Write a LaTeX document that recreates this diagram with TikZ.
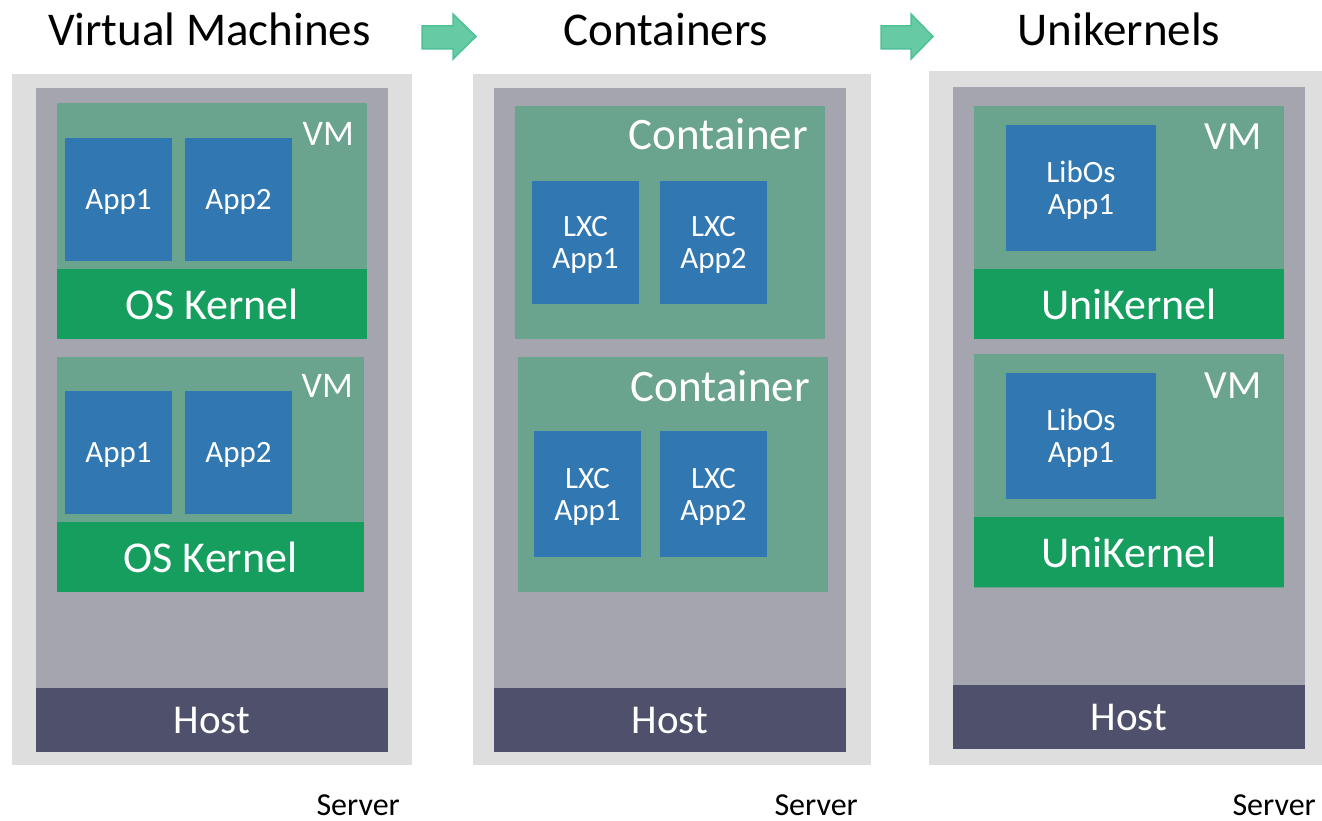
\documentclass[tikz,border=0pt]{standalone}
\usepackage{fontspec}
\setmainfont{Carlito}
\definecolor{servergray}{HTML}{DEDEDE}
\definecolor{hypergray}{HTML}{A5A5B0}
\definecolor{guestteal}{HTML}{6AA38E}
\definecolor{appblue}{HTML}{3177B2}
\definecolor{kernelgreen}{HTML}{169E5E}
\definecolor{hostslate}{HTML}{4F506B}
\definecolor{arrowfill}{HTML}{66CBA4}
\definecolor{arrowline}{HTML}{4FC196}
\begin{document}
\begin{tikzpicture}[x=1pt, y=-1pt,
	box/.style={rectangle, inner sep=0pt, outer sep=0pt, text=white},
	appbox/.style={box, fill=appblue, minimum width=107pt, minimum height=123pt, align=center, text depth=0pt, font=\fontsize{31}{32}\selectfont},
	kernelbox/.style={box, fill=kernelgreen, minimum height=70pt, text depth=0pt, font=\fontsize{44}{46}\selectfont},
	hostbox/.style={box, fill=hostslate, minimum width=352pt, minimum height=64pt, text depth=0pt, font=\fontsize{41}{44}\selectfont},
	title/.style={anchor=base, inner sep=0pt, font=\fontsize{47}{50}\selectfont},
	tag/.style={anchor=base east, inner sep=0pt, text=white},
	servertag/.style={anchor=base east, inner sep=0pt, font=\fontsize{32}{34}\selectfont},
	nextarrow/.style={fill=arrowfill, draw=arrowline, line width=1.5pt, line join=miter}]
	\useasboundingbox (0,0) rectangle (1322,821);

	% titles and arrows
	\node (tVM) at (209.5, 46)	[title]	{Virtual Machines};
	\node (tCT) at (666, 46)	[title]	{Containers};
	\node (tUK) at (1119, 46)	[title]	{Unikernels};
	\draw[nextarrow] (422,26) -- (453,26) -- (453,14) -- (476,36.5) -- (453,59) -- (453,49) -- (422,49) -- cycle;
	\draw[nextarrow] (881,26) -- (911,26) -- (911,14) -- (933,36.5) -- (911,59) -- (911,49) -- (881,49) -- cycle;

	% virtual machines
	\node (srvA) at (212, 419.5)	[box, fill=servergray, minimum width=400pt, minimum height=691pt]	{};
	\node (hypA) at (212, 420)	[box, fill=hypergray, minimum width=352pt, minimum height=664pt]	{};
	\node (vmA1) at (212, 221)	[box, fill=guestteal, minimum width=310pt, minimum height=236pt]	{};
	\node (vmA2) at (210.5, 474.5)	[box, fill=guestteal, minimum width=307pt, minimum height=235pt]	{};
	\node (appA1) at (118.5, 199.5)	[appbox]	{App1};
	\node (appA2) at (238.5, 199.5)	[appbox]	{App2};
	\node (appA3) at (118.5, 452.5)	[appbox]	{App1};
	\node (appA4) at (238.5, 452.5)	[appbox]	{App2};
	\node (kerA1) at (212, 304)	[kernelbox, minimum width=310pt]	{OS Kernel};
	\node (kerA2) at (210.5, 557)	[kernelbox, minimum width=307pt]	{OS Kernel};
	\node (hostA) at (212, 720)	[hostbox]	{Host};
	\node (vmtA1) at (354, 146)	[tag, font=\fontsize{36}{38}\selectfont]	{VM};
	\node (vmtA2) at (353, 397)	[tag, font=\fontsize{36}{38}\selectfont]	{VM};
	\node (sA) at (400, 815)	[servertag]	{Server};

	% containers
	\node (srvB) at (672, 419.5)	[box, fill=servergray, minimum width=398pt, minimum height=691pt]	{};
	\node (hypB) at (670, 420)	[box, fill=hypergray, minimum width=352pt, minimum height=664pt]	{};
	\node (conB1) at (670, 222.5)	[box, fill=guestteal, minimum width=310pt, minimum height=233pt]	{};
	\node (conB2) at (673, 474.5)	[box, fill=guestteal, minimum width=310pt, minimum height=235pt]	{};
	\node (lxcB1) at (585.5, 242.5)	[appbox]	{LXC\\App1};
	\node (lxcB2) at (713.5, 242.5)	[appbox]	{LXC\\App2};
	\node (lxcB3) at (587.5, 494)	[appbox, minimum height=126pt]	{LXC\\App1};
	\node (lxcB4) at (713.5, 494)	[appbox, minimum height=126pt]	{LXC\\App2};
	\node (hostB) at (670, 720)	[hostbox]	{Host};
	\node (ctB1) at (808, 150)	[tag, font=\fontsize{45}{48}\selectfont]	{Container};
	\node (ctB2) at (810, 401)	[tag, font=\fontsize{45}{48}\selectfont]	{Container};
	\node (sB) at (858, 815)	[servertag]	{Server};

	% unikernels
	\node (srvC) at (1125.5, 418)	[box, fill=servergray, minimum width=393pt, minimum height=694pt]	{};
	\node (hypC) at (1129, 418)	[box, fill=hypergray, minimum width=352pt, minimum height=662pt]	{};
	\node (vmC1) at (1129, 222.5)	[box, fill=guestteal, minimum width=310pt, minimum height=233pt]	{};
	\node (vmC2) at (1129, 471)	[box, fill=guestteal, minimum width=310pt, minimum height=234pt]	{};
	\node (libC1) at (1081, 188)	[appbox, minimum width=150pt, minimum height=126pt]	{LibOs\\App1};
	\node (libC2) at (1081, 436)	[appbox, minimum width=150pt, minimum height=126pt]	{LibOs\\App1};
	\node (ukC1) at (1129, 304)	[kernelbox, minimum width=310pt]	{UniKernel};
	\node (ukC2) at (1129, 552)	[kernelbox, minimum width=310pt]	{UniKernel};
	\node (hostC) at (1129, 717)	[hostbox]	{Host};
	\node (vmtC1) at (1262, 150)	[tag, font=\fontsize{40}{42}\selectfont]	{VM};
	\node (vmtC2) at (1262, 398)	[tag, font=\fontsize{40}{42}\selectfont]	{VM};
	\node (sC) at (1316, 815)	[servertag]	{Server};
\end{tikzpicture}
\end{document}
